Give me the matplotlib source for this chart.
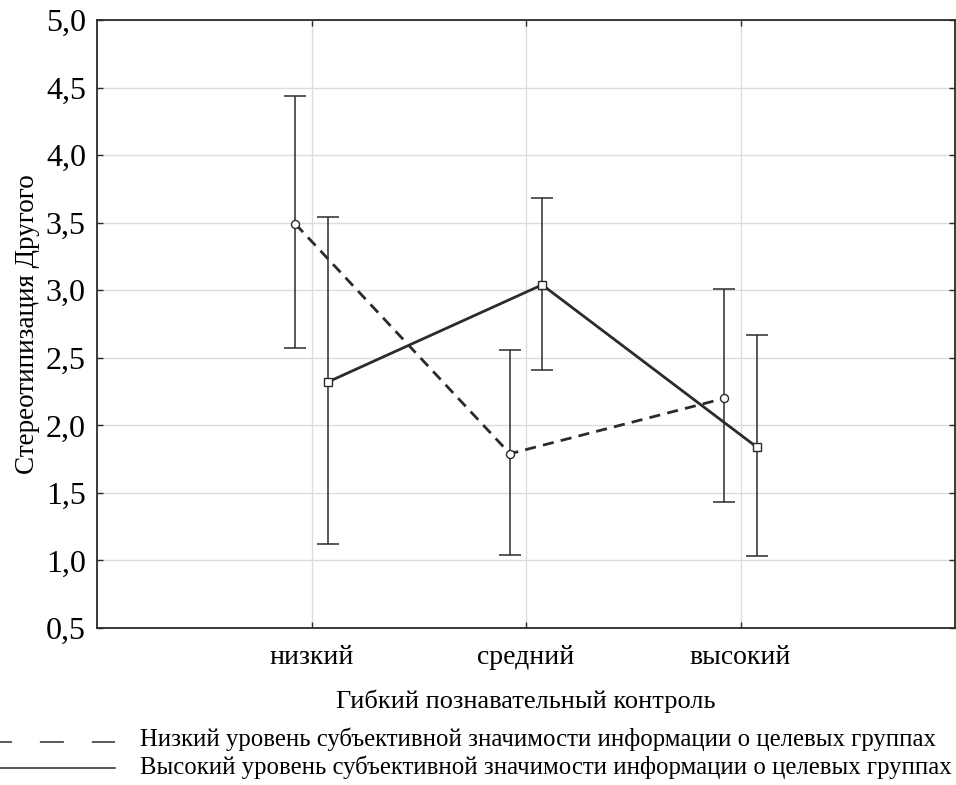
import matplotlib
matplotlib.use("Agg")
import matplotlib.pyplot as plt
from matplotlib.lines import Line2D

plt.rcParams['font.family'] = ['Liberation Serif', 'DejaVu Serif']

# Flexible cognitive control levels
levels = ['низкий', 'средний', 'высокий']
x_pos = [1, 2, 3]

# Low subjective significance group (dashed, circles)
low_mean = [3.49, 1.79, 2.20]
low_lower = [2.57, 1.04, 1.43]
low_upper = [4.44, 2.56, 3.01]

# High subjective significance group (solid, squares)
high_mean = [2.32, 3.04, 1.84]
high_lower = [1.12, 2.41, 1.03]
high_upper = [3.54, 3.68, 2.67]

y_ticks = [0.5, 1.0, 1.5, 2.0, 2.5, 3.0, 3.5, 4.0, 4.5, 5.0]

legend_labels = ['Низкий уровень субъективной значимости информации о целевых группах',
                 'Высокий уровень субъективной значимости информации о целевых группах']

ink = '#2b2b2b'
shift = 0.075

fig = plt.figure(figsize=(9.56, 7.85), dpi=100)
ax = fig.add_axes([0.1015, 0.2, 0.8975, 0.7745])

def draw_group(mean, lower, upper, dx, ls, marker, ms):
    xs = [x + dx for x in x_pos]
    err = [[m - l for m, l in zip(mean, lower)], [u - m for m, u in zip(mean, upper)]]
    ax.errorbar(xs, mean, yerr=err, fmt='none', ecolor=ink, elinewidth=1.1,
                capsize=8, capthick=1.1, zorder=3)
    ax.plot(xs, mean, color=ink, lw=2.0, ls=ls, marker=marker, ms=ms,
            mfc='white', mec=ink, mew=1.0, zorder=4)

draw_group(low_mean, low_lower, low_upper, -shift, (0, (4, 2.6)), 'o', 5.8)
draw_group(high_mean, high_lower, high_upper, shift, '-', 's', 5.8)

ax.set_xlim(0, 4)
ax.set_ylim(0.5, 5.0)
ax.set_xticks(x_pos)
ax.set_xticklabels(levels, fontsize=20)
ax.set_yticks(y_ticks)
ax.set_yticklabels([f'{t:.1f}'.replace('.', ',') for t in y_ticks], fontsize=23)
ax.grid(True, color='#dcdcdc', lw=1.0)
ax.set_axisbelow(True)
ax.tick_params(direction='in', length=4, width=1, color=ink, top=True, right=True, pad=8)
ax.tick_params(axis='x', pad=12)
for s in ax.spines.values():
    s.set_color(ink)
    s.set_linewidth(1.3)

ax.set_ylabel('Стереотипизация Другого', fontsize=19.5, labelpad=4)
ax.set_xlabel('Гибкий познавательный контроль', fontsize=19, labelpad=14)

# legend drawn below the axes, running to the figure edge
fig.add_artist(Line2D([0.0, 0.12], [1 - 742 / 785] * 2, transform=fig.transFigure,
                      color=ink, lw=1.1, ls=(7.9, (15.7, 18.3))))
fig.add_artist(Line2D([0.0, 0.12], [1 - 768 / 785] * 2, transform=fig.transFigure,
                      color=ink, lw=1.1))
fig.text(140 / 956, 1 - 739 / 785, legend_labels[0], fontsize=17.8, va='center', ha='left')
fig.text(140 / 956, 1 - 767 / 785, legend_labels[1], fontsize=17.8, va='center', ha='left')

fig.savefig('out.png', dpi=100)
